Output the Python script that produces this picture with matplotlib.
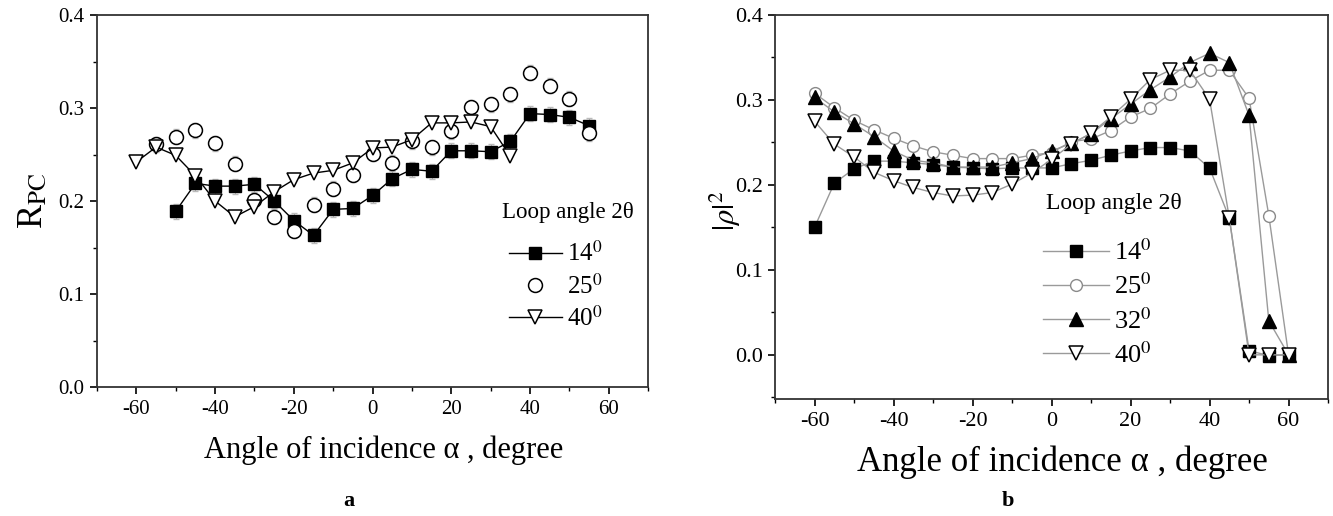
import matplotlib
matplotlib.use("Agg")
import matplotlib.pyplot as plt
from matplotlib.ticker import MultipleLocator, FormatStrFormatter

plt.rcParams['font.family'] = ['Liberation Serif', 'DejaVu Serif']
plt.rcParams['mathtext.fontset'] = 'stix'
plt.rcParams['axes.unicode_minus'] = False

# ---- panel a : R_PC vs angle of incidence ----
a14_x = [-50, -45, -40, -35, -30, -25, -20, -15, -10, -5, 0, 5, 10, 15, 20, 25, 30, 35, 40, 45, 50, 55]
a14_y = [0.189, 0.219, 0.216, 0.216, 0.218, 0.200, 0.179, 0.163, 0.191, 0.192, 0.206, 0.224, 0.234,
         0.232, 0.254, 0.254, 0.253, 0.264, 0.294, 0.293, 0.290, 0.281]
a25_x = [-55, -50, -45, -40, -35, -30, -25, -20, -15, -10, -5, 0, 5, 10, 15, 20, 25, 30, 35, 40, 45, 50, 55]
a25_y = [0.261, 0.269, 0.276, 0.262, 0.240, 0.201, 0.183, 0.168, 0.196, 0.213, 0.228, 0.251, 0.241,
         0.264, 0.258, 0.275, 0.301, 0.304, 0.315, 0.338, 0.324, 0.310, 0.273]
a40_x = [-60, -55, -50, -45, -40, -35, -30, -25, -20, -15, -10, -5, 0, 5, 10, 15, 20, 25, 30, 35]
a40_y = [0.242, 0.258, 0.249, 0.227, 0.200, 0.183, 0.194, 0.210, 0.223, 0.230, 0.233, 0.241, 0.257,
         0.258, 0.266, 0.284, 0.284, 0.285, 0.280, 0.248]
a_err = 0.008

# ---- panel b : |rho|^2 vs angle of incidence ----
b_x = [-60, -55, -50, -45, -40, -35, -30, -25, -20, -15, -10, -5, 0, 5, 10, 15, 20, 25, 30, 35, 40, 45, 50, 55, 60]
b14_y = [0.150, 0.202, 0.219, 0.228, 0.228, 0.226, 0.224, 0.221, 0.220, 0.219, 0.220, 0.220, 0.220,
         0.225, 0.229, 0.235, 0.240, 0.244, 0.244, 0.240, 0.220, 0.161, 0.005, -0.001, 0.0]
b25_y = [0.308, 0.291, 0.276, 0.265, 0.255, 0.246, 0.239, 0.235, 0.231, 0.231, 0.231, 0.235, 0.238,
         0.251, 0.254, 0.264, 0.280, 0.290, 0.307, 0.322, 0.335, 0.335, 0.302, 0.164, 0.0]
b32_y = [0.303, 0.286, 0.272, 0.257, 0.240, 0.229, 0.226, 0.221, 0.221, 0.221, 0.226, 0.231, 0.240,
         0.249, 0.260, 0.278, 0.295, 0.312, 0.327, 0.344, 0.355, 0.344, 0.282, 0.040, 0.0]
b40_y = [0.275, 0.248, 0.233, 0.215, 0.205, 0.197, 0.191, 0.187, 0.188, 0.191, 0.201, 0.214, 0.230,
         0.248, 0.261, 0.280, 0.301, 0.324, 0.335, 0.335, 0.301, 0.161, 0.0, 0.0, 0.0]

leg_labels = [r'14$^0$', r'25$^0$', r'32$^0$', r'40$^0$']
xlab = u'Angle of incidence \u03b1 , degree'

fig = plt.figure(figsize=(13.33, 5.16), dpi=100)
ax1 = fig.add_axes([0.0728, 0.25, 0.4134, 0.7209])
ax2 = fig.add_axes([0.5814, 0.2267, 0.4149, 0.7442])

# panel a
ax1.errorbar(a14_x, a14_y, yerr=a_err, fmt='none', ecolor='#bbbbbb', elinewidth=0.7, capsize=2, zorder=1)
ax1.errorbar(a25_x, a25_y, yerr=a_err, fmt='none', ecolor='#bbbbbb', elinewidth=0.7, capsize=2, zorder=1)
l14, = ax1.plot(a14_x, a14_y, color='black', lw=1.0, marker='s', ms=8.5, mfc='black', mec='black', zorder=3)
l25, = ax1.plot(a25_x, a25_y, ls='none', marker='o', ms=10, mfc='white', mec='black', mew=1.1, zorder=3)
l40, = ax1.plot(a40_x, a40_y, color='black', lw=1.0, marker='v', ms=10, mfc='white', mec='black', mew=1.1, zorder=3)

ax1.set_xlim(-70, 70)
ax1.set_ylim(0, 0.4)
ax1.set_xlabel(xlab, fontsize=22)
ax1.xaxis.set_label_coords(0.52, -0.13)
ax1.set_ylabel(r'R$_{\rm PC}$', fontsize=26, labelpad=6)
ax1.text(0.735, 0.47, u'Loop angle 2\u03b8', transform=ax1.transAxes, fontsize=16.5, va='center')
ax1.legend([l14, l25, l40], [leg_labels[0], leg_labels[1], leg_labels[3]], loc='upper left',
           bbox_to_anchor=(0.725, 0.425), frameon=False, fontsize=18, handlelength=2.1,
           handletextpad=0.2, labelspacing=0.3, borderpad=0)

# panel b
gray = '#9a9a9a'
m14, = ax2.plot(b_x, b14_y, color=gray, lw=1.0, marker='s', ms=8, mfc='black', mec='black', zorder=3)
m25, = ax2.plot(b_x, b25_y, color=gray, lw=1.0, marker='o', ms=8.5, mfc='white', mec='#8a8a8a', mew=1.0, zorder=2)
m32, = ax2.plot(b_x, b32_y, color=gray, lw=1.0, marker='^', ms=9.5, mfc='black', mec='black', zorder=3)
m40, = ax2.plot(b_x, b40_y, color=gray, lw=1.0, marker='v', ms=9.5, mfc='white', mec='black', mew=1.1, zorder=4)

ax2.set_xlim(-70, 70)
ax2.set_ylim(-0.052, 0.4)
ax2.set_xlabel(xlab, fontsize=25)
ax2.xaxis.set_label_coords(0.52, -0.122)
ax2.set_ylabel(r'$|\rho|^2$', fontsize=22)
ax2.yaxis.set_label_coords(-0.058, 0.49)
ax2.text(0.49, 0.51, u'Loop angle 2\u03b8', transform=ax2.transAxes, fontsize=17, va='center')
ax2.legend([m14, m25, m32, m40], leg_labels, loc='upper left',
           bbox_to_anchor=(0.46, 0.45), frameon=False, fontsize=19, handlelength=2.5,
           handletextpad=0.2, labelspacing=0.32, borderpad=0)

for ax, fs in ((ax1, 15), (ax2, 16)):
    ax.xaxis.set_major_locator(MultipleLocator(20))
    ax.xaxis.set_minor_locator(MultipleLocator(10))
    ax.yaxis.set_major_locator(MultipleLocator(0.1))
    ax.yaxis.set_minor_locator(MultipleLocator(0.05))
    ax.yaxis.set_major_formatter(FormatStrFormatter('%.1f'))
    ax.tick_params(which='major', direction='out', length=5, width=1.2, labelsize=fs, pad=4)
    ax.tick_params(which='minor', direction='out', length=3, width=1.0)
    for s in ax.spines.values():
        s.set_linewidth(1.3)
        s.set_color('#333333')

fig.text(0.262, 0.02, 'a', fontsize=16, fontweight='bold', ha='center')
fig.text(0.756, 0.02, 'b', fontsize=16, fontweight='bold', ha='center')

fig.savefig('out.png', dpi=100)
